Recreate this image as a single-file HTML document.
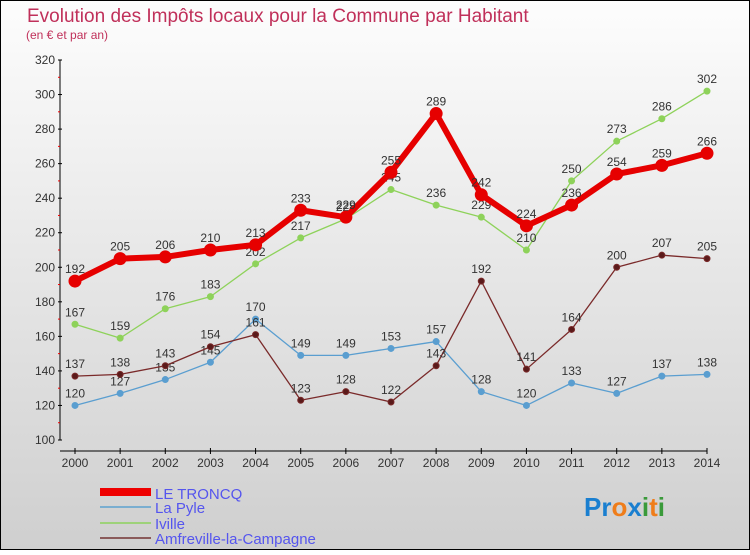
<!DOCTYPE html>
<html><head><meta charset="utf-8"><style>
html,body{margin:0;padding:0}
body{width:750px;height:550px;overflow:hidden;font-family:"Liberation Sans",sans-serif}
svg text{font-family:"Liberation Sans",sans-serif}
</style></head><body>
<svg id="c" width="750" height="550" xmlns="http://www.w3.org/2000/svg">
<defs><linearGradient id="bg" x1="0" y1="0" x2="0" y2="1"><stop offset="0" stop-color="#fdfdfd"/><stop offset="1" stop-color="#cfcfcf"/></linearGradient></defs>
<rect x="0.5" y="0.5" width="749" height="549" fill="url(#bg)" stroke="#000"/>
<text x="27" y="22" font-size="19" fill="#c0305a">Evolution des Impôts locaux pour la Commune par Habitant</text>
<text x="26" y="39" font-size="12" fill="#c0305a">(en € et par an)</text>
<g id="axes"></g><g id="series"></g>
<g>
<rect x="100" y="488" width="51" height="8" fill="#e00"/>
<text x="155" y="499" font-size="15" fill="#5555ee">LE TRONCQ</text>
<rect x="100" y="506" width="51" height="2" fill="#7aaed0"/>
<text x="155" y="513" font-size="15" fill="#5555ee">La Pyle</text>
<rect x="100" y="522" width="51" height="2" fill="#9ed27a"/>
<text x="155" y="529" font-size="15" fill="#5555ee">Iville</text>
<rect x="100" y="537" width="51" height="2" fill="#8a5a5a"/>
<text x="155" y="544" font-size="15" fill="#5555ee">Amfreville-la-Campagne</text>
</g>
<text x="584" y="516" font-size="26" font-weight="bold"><tspan fill="#1a7fd0">Pr</tspan><tspan fill="#ef7d1a">o</tspan><tspan fill="#1a7fd0">x</tspan><tspan fill="#3a9a3a">i</tspan><tspan fill="#ef7d1a">t</tspan><tspan fill="#3a9a3a">i</tspan></text>
</svg>
<script>
const years=[2000,2001,2002,2003,2004,2005,2006,2007,2008,2009,2010,2011,2012,2013,2014];
const yTicks=[100,120,140,160,180,200,220,240,260,280,300,320];
const troncq=[192,205,206,210,213,233,229,255,289,242,224,236,254,259,266];
const pyle=[120,127,135,145,170,149,149,153,157,128,120,133,127,137,138];
const iville=[167,159,176,183,202,217,228,245,236,229,210,250,273,286,302];
const amfreville=[137,138,143,154,161,123,128,122,143,192,141,164,200,207,205];
const NS="http://www.w3.org/2000/svg";
const xs=i=>75+i*(632/14);
const ys=v=>440-(v-100)*(380/220);
function mk(tag,attrs,parent,txt){const e=document.createElementNS(NS,tag);for(const k in attrs)e.setAttribute(k,attrs[k]);if(txt!==undefined)e.textContent=txt;parent.appendChild(e);return e;}
const ax=document.getElementById('axes');
let l=mk('line',{x1:60,y1:60,x2:60,y2:440,stroke:'#000'},ax);


l=mk('line',{x1:60,y1:451,x2:707,y2:451,stroke:'#000'},ax);


yTicks.forEach(v=>{
 mk('line',{x1:58,y1:ys(v),x2:62,y2:ys(v),stroke:'#000'},ax);
 if(v<320)mk('line',{x1:58,y1:ys(v+10),x2:60,y2:ys(v+10),stroke:'#e00'},ax);
 const t=mk('text',{x:55,y:ys(v)+4,'font-size':12,fill:'#333','text-anchor':'end'},ax,v);
 
 
});
years.forEach((y,i)=>{
 mk('line',{x1:xs(i),y1:448,x2:xs(i),y2:454,stroke:'#000'},ax);
 const t=mk('text',{x:xs(i),y:467,'font-size':12,fill:'#333','text-anchor':'middle'},ax,y);
 
 
});
const sg=document.getElementById('series');
function draw(data,color,w,r,name,dot){
 const g=mk('g',{},sg);
 
 
 const p=mk('polyline',{points:data.map((v,i)=>xs(i)+','+ys(v)).join(' '),fill:'none',stroke:color,'stroke-width':w,'stroke-linejoin':'round'},g);
 
 
 data.forEach((v,i)=>{
  const c=mk('circle',{cx:xs(i),cy:ys(v),r:r,fill:dot,stroke:color,'stroke-width':1},g);
  
  
  const t=mk('text',{x:xs(i),y:ys(v)-8,'font-size':12,fill:'#333','text-anchor':'middle'},g,v);
  
  
 });
}
draw(pyle,'#5a9ed0',1.3,3,'la-pyle','#5a9ed0');
draw(amfreville,'#7a2a2a',1.3,3,'amfreville','#5a1a1a');
draw(iville,'#8ed25a',1.3,3,'iville','#8ed25a');
draw(troncq,'#e60000',6,6,'le-troncq','#e60000');
</script>
</body></html>
